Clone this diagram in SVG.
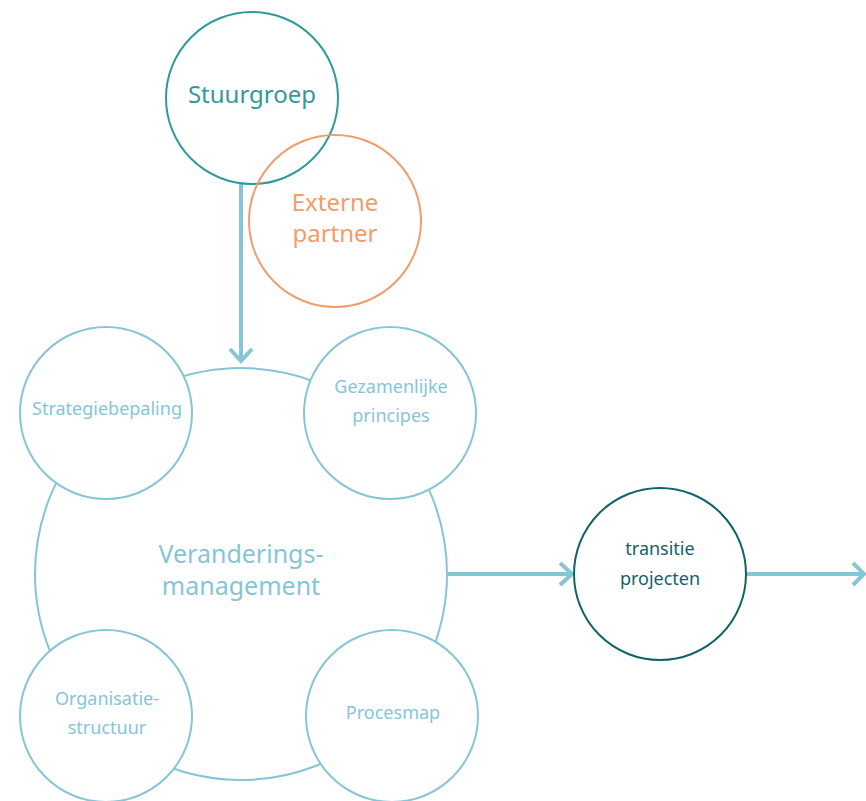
<svg xmlns="http://www.w3.org/2000/svg" width="866" height="801" viewBox="0 0 866 801">
<style>
text{font-family:"Noto Sans","Open Sans",sans-serif;text-anchor:middle}
.lb{fill:none;stroke:#86c5d7;stroke-width:2}
.sm{fill:#fff;stroke:#86c5d7;stroke-width:2}
.st{fill:#86c5d7;font-size:18px}
.con{fill:none;stroke:#86c5d7;stroke-width:4}
.head{fill:none;stroke:#86c5d7;stroke-width:4;stroke-linecap:butt}
</style>
<rect width="866" height="801" fill="#fff"/>
<g id="connectors">
<line class="con" x1="241" y1="184" x2="241" y2="361"/>
<path class="head" d="M230,349 L241,361 L252,349"/>
<line class="con" x1="448" y1="574" x2="572" y2="574"/>
<path class="head" d="M560,563 L572,574 L560,585"/>
<line class="con" x1="746" y1="574" x2="864" y2="574"/>
<path class="head" d="M853,563 L864,574 L853,585"/>
</g>
<g id="stuurgroep">
<circle cx="252" cy="98" r="86" fill="none" stroke="#2f9a9a" stroke-width="2"/>
<text x="252" y="103" font-size="24" fill="#2f9a9a">Stuurgroep</text>
</g>
<g id="externe-partner">
<circle cx="335" cy="221" r="86" fill="none" stroke="#f39c6b" stroke-width="2"/>
<text x="335" y="211" font-size="24" fill="#f39c6b">Externe</text>
<text x="335" y="242" font-size="24" fill="#f39c6b">partner</text>
</g>
<g id="veranderingsmanagement">
<circle class="lb" cx="241" cy="574" r="206"/>
<text x="241" y="563" font-size="25" fill="#86c5d7">Veranderings-</text>
<text x="241" y="595" font-size="25" fill="#86c5d7">management</text>
</g>
<g id="strategiebepaling">
<circle class="sm" cx="106" cy="413" r="86"/>
<text class="st" x="107" y="415">Strategiebepaling</text>
</g>
<g id="gezamenlijke-principes">
<circle class="sm" cx="390" cy="413" r="86"/>
<text class="st" x="391" y="393">Gezamenlijke</text>
<text class="st" x="391" y="422">principes</text>
</g>
<g id="organisatiestructuur">
<circle class="sm" cx="106" cy="716" r="86"/>
<text class="st" x="107" y="705">Organisatie-</text>
<text class="st" x="107" y="734">structuur</text>
</g>
<g id="procesmap">
<circle class="sm" cx="392" cy="716" r="86"/>
<text class="st" x="393" y="719">Procesmap</text>
</g>
<g id="transitie-projecten">
<circle cx="660" cy="574" r="86" fill="#fff" stroke="#0f6468" stroke-width="2"/>
<text x="660" y="555" font-size="18" fill="#0f6468">transitie</text>
<text x="660" y="585" font-size="18" fill="#0f6468">projecten</text>
</g>
</svg>
